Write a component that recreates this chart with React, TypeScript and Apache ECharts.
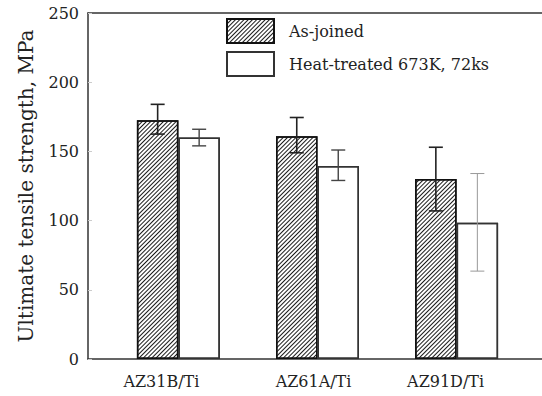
import React, { useEffect, useRef } from "react";
import * as echarts from "echarts";

const categories = ["AZ31B/Ti", "AZ61A/Ti", "AZ91D/Ti"];
const asJoined = [172.5, 161, 130];
const asJoinedLow = [162.5, 149, 107];
const asJoinedHigh = [184, 174.5, 153];
const heatTreated = [160, 139.5, 98.5];
const heatTreatedLow = [154, 129, 63.5];
const heatTreatedHigh = [166, 151, 134];
const yTicks = [0, 50, 100, 150, 200, 250];

const FONT = "DejaVu Serif";
const BAR_W = 41.5;

function errRender(offset: number, colors: string[], widths: number[]) {
  return (params: any, api: any) => {
    const idx = api.value(0);
    const lo = api.coord([idx, api.value(1)]);
    const hi = api.coord([idx, api.value(2)]);
    const x = lo[0] + offset;
    const c = colors[params.dataIndex];
    const w = widths[params.dataIndex];
    const style = { stroke: c, lineWidth: w };
    const cap = 7;
    return {
      type: "group",
      children: [
        { type: "line", shape: { x1: x, y1: lo[1], x2: x, y2: hi[1] }, style },
        { type: "line", shape: { x1: x - cap, y1: lo[1], x2: x + cap, y2: lo[1] }, style },
        { type: "line", shape: { x1: x - cap, y1: hi[1], x2: x + cap, y2: hi[1] }, style },
      ],
    };
  };
}

export default function App() {
  const ref = useRef<HTMLDivElement>(null);
  useEffect(() => {
    if (!ref.current) return;
    document.body.style.margin = "0";
    const chart = echarts.init(ref.current, null, { renderer: "svg" });
    const labelShift = [34, 8, 22];
    const option: any = {
      animation: false,
      backgroundColor: "#fff",
      aria: { enabled: false, decal: { show: true } },
      textStyle: { fontFamily: FONT },
      legend: {
        orient: "vertical",
        left: 226,
        top: 18,
        padding: 0,
        itemWidth: 47,
        itemHeight: 24,
        itemGap: 7,
        icon: "rect",
        textStyle: { fontFamily: FONT, fontSize: 16, color: "#222", padding: [0, 0, 0, 10] },
        data: ["As-joined", "Heat-treated 673K, 72ks"],
      },
      grid: [
        { left: 88, right: -10, top: 13, bottom: 37 },
        { left: 108.85, right: 15.85, top: 13, bottom: 37 },
      ],
      xAxis: [
        {
          gridIndex: 0,
          type: "value",
          min: 0,
          max: 1,
          position: "bottom",
          axisLine: { show: true, lineStyle: { color: "#333", width: 1.5 } },
          axisTick: { show: false },
          axisLabel: { show: false },
          splitLine: { show: false },
        },
        {
          gridIndex: 0,
          type: "value",
          min: 0,
          max: 1,
          position: "top",
          axisLine: { show: true, lineStyle: { color: "#333", width: 1.5 } },
          axisTick: { show: false },
          axisLabel: { show: false },
          splitLine: { show: false },
        },
        {
          gridIndex: 1,
          type: "category",
          data: categories,
          axisLine: { show: false },
          axisTick: { show: false },
          axisLabel: {
            interval: 0,
            margin: 14,
            fontFamily: FONT,
            fontSize: 16,
            color: "#222",
            formatter: (v: string, i: number) => `{l${i}|${v}}`,
            rich: {
              l0: { fontFamily: FONT, fontSize: 16, color: "#222", padding: [0, labelShift[0], 0, 0] },
              l1: { fontFamily: FONT, fontSize: 16, color: "#222", padding: [0, labelShift[1], 0, 0] },
              l2: { fontFamily: FONT, fontSize: 16, color: "#222", padding: [0, labelShift[2], 0, 0] },
            },
          },
        },
      ],
      yAxis: [
        {
          gridIndex: 0,
          type: "value",
          min: yTicks[0],
          max: yTicks[yTicks.length - 1],
          interval: 50,
          name: "Ultimate tensile strength, MPa",
          nameLocation: "middle",
          nameGap: 52,
          nameTextStyle: { fontFamily: FONT, fontSize: 20, color: "#222" },
          axisLine: { show: true, lineStyle: { color: "#333", width: 1.5 } },
          axisTick: { show: true, inside: true, length: 4, lineStyle: { color: "#ccc" } },
          axisLabel: { margin: 9, fontFamily: FONT, fontSize: 16, color: "#222" },
          splitLine: { show: false },
        },
        {
          gridIndex: 1,
          type: "value",
          min: 0,
          max: 250,
          show: false,
          splitLine: { show: false },
        },
      ],
      series: [
        {
          name: "As-joined",
          type: "bar",
          xAxisIndex: 2,
          yAxisIndex: 1,
          data: asJoined,
          barWidth: BAR_W,
          barGap: "0%",
          itemStyle: {
            color: "#fff",
            borderColor: "#111",
            borderWidth: 1.5,
            decal: {
              symbol: "rect",
              symbolSize: 1,
              color: "#1a1a1a",
              backgroundColor: "#fff",
              dashArrayX: [1, 0],
              dashArrayY: [1, 2],
              rotation: -Math.PI / 4,
            },
          },
        },
        {
          name: "Heat-treated 673K, 72ks",
          type: "bar",
          xAxisIndex: 2,
          yAxisIndex: 1,
          data: heatTreated,
          barWidth: BAR_W,
          barGap: "0%",
          itemStyle: {
            color: "#fff",
            borderColor: "#333",
            borderWidth: 1.5,
            decal: { symbol: "none" },
          },
        },
        {
          type: "custom",
          xAxisIndex: 2,
          yAxisIndex: 1,
          data: categories.map((_, i) => [i, asJoinedLow[i], asJoinedHigh[i]]),
          renderItem: errRender(-BAR_W / 2, ["#222", "#222", "#222"], [1.6, 1.6, 1.6]),
          z: 5,
        },
        {
          type: "custom",
          xAxisIndex: 2,
          yAxisIndex: 1,
          data: categories.map((_, i) => [i, heatTreatedLow[i], heatTreatedHigh[i]]),
          renderItem: errRender(BAR_W / 2, ["#444", "#444", "#999"], [1.4, 1.4, 1]),
          z: 5,
        },
      ],
    };
    chart.setOption(option);
    return () => chart.dispose();
  }, []);
  return <div ref={ref} style={{ width: 542, height: 396 }} />;
}
